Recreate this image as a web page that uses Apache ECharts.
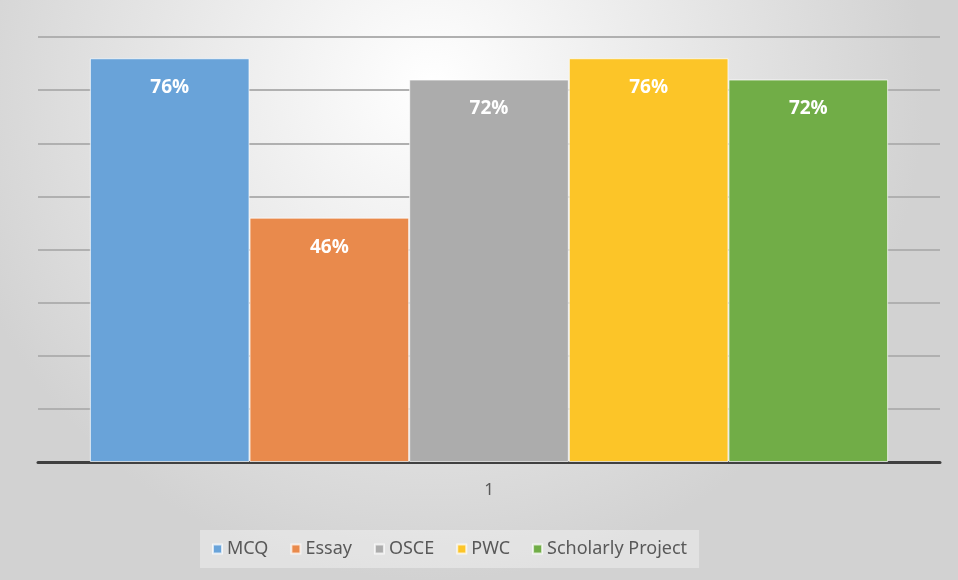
<!DOCTYPE html>
<html>
<head>
<meta charset="utf-8">
<script src="https://cdn.jsdelivr.net/npm/echarts@6/dist/echarts.min.js"></script>
<style>
  html, body { margin: 0; padding: 0; background: #ffffff; }
  #chart { width: 958px; height: 580px; }
</style>
</head>
<body>
<div id="chart"></div>
<script>
var categories = ['1']
var seriesNames = ['MCQ', 'Essay', 'OSCE', 'PWC', 'Scholarly Project']
var seriesValues = [[76], [46], [72], [76], [72]]
var seriesColors = ['#69a3d9', '#e98a4c', '#acacac', '#fcc528', '#71ad47']

var chart = echarts.init(document.getElementById('chart'))

var series = seriesNames.map(function (name, i) {
  return {
    name: name,
    type: 'bar',
    data: seriesValues[i],
    barGap: '0%',
    barCategoryGap: '11.5%',
    itemStyle: {
      color: seriesColors[i],
      borderColor: 'rgba(255,255,255,0.7)',
      borderWidth: 1
    },
    label: {
      show: true,
      position: 'insideTop',
      distance: 20,
      formatter: '{c}%',
      color: '#ffffff',
      fontSize: 19,
      fontWeight: 'bold',
      fontFamily: 'Open Sans'
    }
  }
})

var option = {
  backgroundColor: {
    type: 'radial',
    x: 0.45,
    y: 0.15,
    r: 0.85,
    colorStops: [
      { offset: 0, color: '#ffffff' },
      { offset: 1, color: '#d2d2d2' }
    ]
  },
  animation: false,
  grid: {
    left: 38,
    right: 18,
    top: 37,
    bottom: 118
  },
  legend: {
    data: seriesNames,
    bottom: 12,
    left: 200,
    itemWidth: 9,
    itemHeight: 9,
    itemGap: 22,
    icon: 'rect',
    padding: [10, 12],
    backgroundColor: 'rgba(255,255,255,0.35)',
    textStyle: {
      color: '#595959',
      fontSize: 18,
      fontFamily: 'Noto Sans'
    }
  },
  xAxis: {
    type: 'category',
    data: categories,
    axisLine: { lineStyle: { color: '#404040', width: 3 } },
    axisTick: { show: false },
    axisLabel: {
      color: '#595959',
      fontSize: 17,
      fontFamily: 'Noto Sans',
      margin: 20
    }
  },
  yAxis: {
    type: 'value',
    min: 0,
    max: 80,
    interval: 10,
    axisLabel: { show: false },
    axisLine: { show: false },
    axisTick: { show: false },
    splitLine: { lineStyle: { color: '#b0b0b0', width: 2 } }
  },
  series: series
}
chart.setOption(option)
</script>
</body>
</html>
